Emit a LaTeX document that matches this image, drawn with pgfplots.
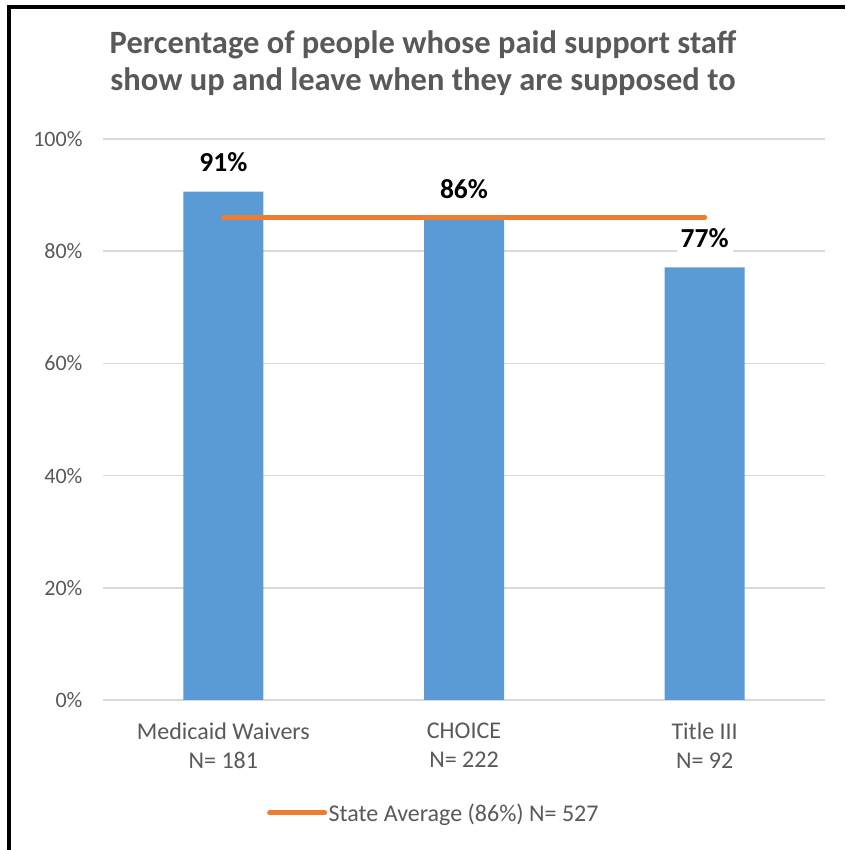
\documentclass[border=0pt]{standalone}
\usepackage{pgfplots}
\pgfplotsset{compat=1.18}
\usepackage{fontspec}
\setmainfont{Carlito}
\definecolor{barblue}{HTML}{5B9BD5}
\definecolor{avgorange}{HTML}{ED7D31}
\definecolor{gridgray}{HTML}{D9D9D9}
\definecolor{textgray}{HTML}{595959}
\begin{document}
\begin{tikzpicture}[x=1pt,y=1pt]
\useasboundingbox (0,0) rectangle (845,850);
\fill[white] (0,0) rectangle (845,850);
\draw[line width=4pt, line join=miter] (8.7,0) -- (8.7,843.3) -- (845,843.3);
\node[align=center, text=textgray, font=\fontsize{32.5}{36.5}\selectfont\bfseries] at (423,787)
  {Percentage of people whose paid support staff\\show up and leave when they are supposed to};
\begin{axis}[
  at={(103pt,150pt)}, anchor=south west,
  scale only axis, width=722pt, height=561pt,
  xmin=-0.5, xmax=2.5, ymin=0, ymax=100,
  axis line style={draw=none},
  ytick={0,20,40,60,80,100},
  ymajorgrids, major grid style={gridgray, line width=1.5pt},
  major tick length=0pt,
  /pgf/number format/assume math mode=true,
  yticklabel={\pgfmathprintnumber{\tick}\%},
  yticklabel style={font=\fontsize{22}{26}\selectfont, text=textgray, xshift=-17pt},
  xtick={0,1,2},
  xticklabels={{Medicaid Waivers\\N= 181},{CHOICE\\N= 222},{Title III\\N= 92}},
  xticklabel style={align=center, font=\fontsize{24}{29.5}\selectfont, text=textgray, yshift=-19pt},
  legend style={at={(0.227,-0.2014)}, anchor=west, draw=none, fill=none,
    inner sep=0pt, font=\fontsize{24}{28}\selectfont, text=textgray,
    nodes={inner sep=1.5pt}},
  legend image code/.code={\draw[#1, line cap=round] (0pt,0pt) -- (55pt,0pt);},
  clip=false,
]
\addplot[ybar, bar width=80pt, fill=barblue, draw=none, forget plot,
  nodes near coords={\pgfmathprintnumber[fixed,precision=0]{\pgfplotspointmeta}\%},
  nodes near coords style={font=\fontsize{27.5}{30}\selectfont\bfseries, text=black,
    anchor=base, yshift=20pt, fill=white, inner sep=4pt}]
  coordinates {(0,90.6) (1,85.8) (2,77.1)};
\addplot[avgorange, line width=5pt, line cap=round] coordinates {(0,86) (2,86)};
\addlegendentry{State Average (86\%) N= 527}
\end{axis}
\end{tikzpicture}
\end{document}
